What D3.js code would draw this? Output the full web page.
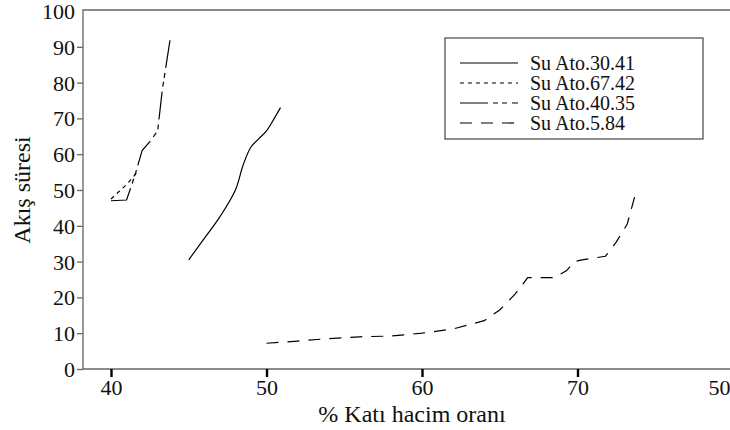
<!DOCTYPE html>
<html>
<head>
<meta charset="utf-8">
<script src="https://cdn.jsdelivr.net/npm/d3@7"></script>
<style>
  body { margin: 0; background: #fff; }
  svg text { font-family: "Liberation Serif", "Times New Roman", serif; }
</style>
</head>
<body>
<svg id="chart" width="730" height="430"></svg>
<script>
// data
var xTicks = [40, 50, 60, 70, 80];
var xTickLabels = ["40", "50", "60", "70", "50"];
var yTicks = [0, 10, 20, 30, 40, 50, 60, 70, 80, 90, 100];

var seriesNames = ["Su Ato.30.41", "Su Ato.67.42", "Su Ato.40.35", "Su Ato.5.84"];

var ato3041 = [[45, 30.5], [46, 36.5], [47, 42.5], [48, 50], [48.5, 57], [49, 62],
               [49.5, 64.3], [50, 66.5], [50.5, 70], [50.9, 73]];
var ato6742 = [[40, 47.5], [40.5, 49.5], [41, 51.5], [41.5, 54], [41.8, 55.5]];
var ato4035 = [[40, 47], [41, 47.2], [41.3, 51], [41.6, 55], [42, 61], [42.5, 63.5],
               [43, 66.5], [43.3, 78], [43.8, 92]];
var ato584 = [[50, 7.2], [52, 7.8], [54, 8.5], [56, 9], [58, 9.2], [60, 10], [62, 11.2],
              [64, 13.5], [65, 16.5], [66, 21], [66.8, 25.5], [68.5, 25.5], [69.3, 27.5],
              [69.8, 30], [70.2, 30.4], [71.8, 31.5], [72.5, 35.5], [73.2, 40.5], [73.7, 48.5]];

var seriesData = [ato3041, ato6742, ato4035, ato584];
var dashes = ["none", "4,4", "28,5,5,4,5,5", "12,9"];
var curves = [d3.curveCatmullRom, d3.curveLinear, d3.curveLinear, d3.curveLinear];

var FONT = "'Liberation Serif', 'Times New Roman', serif";

var svg = d3.select("#chart"),
    W = +svg.attr("width"),
    H = +svg.attr("height");

var plotLeft = 83, plotTop = 10, plotBottom = 369;

var x = d3.scaleLinear().domain([40, 80]).range([111, 733]);
var y = d3.scaleLinear().domain([0, 100]).range([plotBottom, 11]);

// frame (top + left + bottom), runs off the right edge
svg.append("path")
   .attr("d", "M" + (W + 5) + "," + plotTop + "H" + plotLeft + "V" + plotBottom + "H" + (W + 5))
   .attr("fill", "none")
   .attr("stroke", "#666")
   .attr("stroke-width", 1.3);

// y axis
var yAxis = svg.append("g")
    .attr("transform", "translate(" + plotLeft + ",0)")
    .call(d3.axisLeft(y).tickValues(yTicks).tickSize(6).tickPadding(2).tickFormat(d3.format("d")));
yAxis.attr("font-family", null);
yAxis.select(".domain").remove();
yAxis.selectAll(".tick line")
     .attr("stroke", "#666").attr("stroke-width", 1.3)
     .attr("x2", function(d) { return d === 100 ? 0 : -6; });
yAxis.selectAll(".tick text")
     .style("font-family", FONT)
     .attr("font-size", 22).attr("fill", "#111")
     .attr("dy", "0.34em");

// x axis
var xAxis = svg.append("g")
    .attr("transform", "translate(0," + plotBottom + ")")
    .call(d3.axisBottom(x).tickValues(xTicks).tickSize(8).tickPadding(2)
          .tickFormat(function(d, i) { return xTickLabels[i]; }));
xAxis.attr("font-family", null);
xAxis.select(".domain").remove();
xAxis.selectAll(".tick line").attr("stroke", "#000").attr("stroke-width", 2.4);
xAxis.selectAll(".tick text")
     .style("font-family", FONT)
     .attr("font-size", 22).attr("fill", "#111")
     .each(function(d) {
        // keep the cut-off last label inside the picture
        if (x(d) > W - 10) {
          d3.select(this).attr("text-anchor", "end").attr("x", W - x(d));
        }
     });

// axis titles
svg.append("text")
   .attr("x", 412).attr("y", 422)
   .attr("text-anchor", "middle")
   .style("font-family", FONT)
   .attr("font-size", 24).attr("fill", "#111")
   .text("% Katı hacim oranı");

svg.append("text")
   .attr("transform", "translate(30,190) rotate(-90)")
   .attr("text-anchor", "middle")
   .style("font-family", FONT)
   .attr("font-size", 24).attr("fill", "#111")
   .text("Akış süresi");

// series
seriesData.forEach(function(data, i) {
  var line = d3.line()
      .x(function(d) { return x(d[0]); })
      .y(function(d) { return y(d[1]); })
      .curve(curves[i]);
  svg.append("path")
     .datum(data)
     .attr("d", line)
     .attr("fill", "none")
     .attr("stroke", "#000")
     .attr("stroke-width", 1.2)
     .attr("stroke-dasharray", dashes[i]);
});

// legend
var legend = svg.append("g").attr("transform", "translate(445,38)");
legend.append("rect")
   .attr("width", 258).attr("height", 101)
   .attr("fill", "#fff").attr("stroke", "#444").attr("stroke-width", 1.2);

var item = legend.selectAll(".item")
   .data(seriesNames)
   .enter().append("g")
   .attr("transform", function(d, i) { return "translate(0," + (25 + i * 20) + ")"; });

item.append("line")
   .attr("x1", 15).attr("x2", 73)
   .attr("stroke", "#000").attr("stroke-width", 1.2)
   .attr("stroke-dasharray", function(d, i) { return dashes[i]; });

item.append("text")
   .attr("x", 85).attr("dy", "0.34em")
   .style("font-family", FONT)
   .attr("font-size", 20).attr("fill", "#111")
   .text(function(d) { return d; });
</script>
</body>
</html>
